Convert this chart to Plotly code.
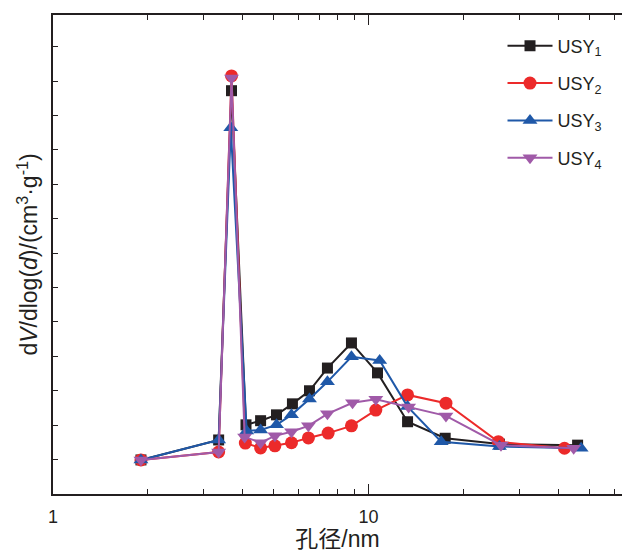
import plotly.graph_objects as go

# Pore diameter (nm) per series
d_usy1 = [1.90, 3.35, 3.68, 4.09, 4.55, 5.11, 5.74, 6.50, 7.41, 8.83, 10.68, 13.3, 17.5, 26.0, 46.0]
d_usy2 = [1.90, 3.35, 3.68, 4.07, 4.55, 5.05, 5.70, 6.45, 7.45, 8.83, 10.55, 13.3, 17.6, 25.8, 41.8]
d_usy3 = [1.90, 3.35, 3.66, 4.11, 4.55, 5.11, 5.70, 6.50, 7.41, 8.83, 10.85, 13.3, 17.0, 26.0, 47.2]
d_usy4 = [1.90, 3.35, 3.68, 4.05, 4.55, 5.05, 5.70, 6.45, 7.41, 8.90, 10.55, 13.4, 17.6, 26.3, 44.7]

# dV/dlog(d) values (cm3/g)
v_usy1 = [0.099, 0.157, 1.172, 0.201, 0.213, 0.230, 0.262, 0.300, 0.366, 0.439, 0.352, 0.210, 0.162, 0.145, 0.142]
v_usy2 = [0.099, 0.122, 1.215, 0.148, 0.134, 0.140, 0.149, 0.163, 0.177, 0.198, 0.244, 0.288, 0.264, 0.152, 0.133]
v_usy3 = [0.099, 0.157, 1.064, 0.183, 0.186, 0.201, 0.230, 0.276, 0.326, 0.399, 0.388, 0.254, 0.152, 0.138, 0.133]
v_usy4 = [0.099, 0.122, 1.209, 0.166, 0.149, 0.169, 0.181, 0.198, 0.233, 0.265, 0.275, 0.253, 0.227, 0.142, 0.133]

names = ["USY<sub>1</sub>", "USY<sub>2</sub>", "USY<sub>3</sub>", "USY<sub>4</sub>"]
colors = ["#231f20", "#ec2a2a", "#1f58a8", "#a05aa8"]
symbols = ["square", "circle", "triangle-up", "triangle-down"]
sizes = [11, 13, 13, 13]

xs = [d_usy1, d_usy2, d_usy3, d_usy4]
ys = [v_usy1, v_usy2, v_usy3, v_usy4]

FONT = "Liberation Sans, Arial, Noto Sans CJK SC, sans-serif"

fig = go.Figure()
for i in range(4):
    fig.add_trace(go.Scatter(
        x=xs[i], y=ys[i], name=names[i], mode="lines+markers",
        line=dict(color=colors[i], width=2),
        marker=dict(symbol=symbols[i], size=sizes[i], color=colors[i]),
        legendgroup=f"g{i}",
    ))

fig.update_layout(
    width=622, height=552,
    margin=dict(l=53, r=0, t=15, b=58, autoexpand=False),
    paper_bgcolor="white", plot_bgcolor="white",
    font=dict(family=FONT, color="#231f20", size=17),
    showlegend=True,
    legend=dict(x=0.79, y=0.974, xanchor="left", yanchor="top",
                bgcolor="rgba(0,0,0,0)", traceorder="grouped", itemwidth=45,
                tracegroupgap=11, font=dict(size=18, family=FONT)),
)

fig.update_xaxes(
    type="log", range=[0, 1.8035], automargin=False,
    showline=True, linecolor="#231f20", linewidth=1.5, mirror="allticks",
    ticks="inside", ticklen=10, tickcolor="#231f20", tickwidth=1.2,
    tickvals=[1, 10], ticktext=["1", "10"], ticklabelstandoff=6,
    minor=dict(ticks="inside", ticklen=5, tickcolor="#231f20", tickwidth=1.2,
               tickvals=[2, 3, 4, 5, 6, 7, 8, 9, 20, 30, 40, 50, 60], showgrid=False),
    showgrid=False, zeroline=False,
    tickfont=dict(size=18, family=FONT),
    title=dict(text="孔径/nm", font=dict(size=23, family=FONT), standoff=7),
)
fig.update_yaxes(
    range=[0, 1.392], automargin=False,
    showline=True, linecolor="#231f20", linewidth=1.5, mirror=False,
    ticks="inside", ticklen=5, tickcolor="#231f20", tickwidth=1.2,
    dtick=0.1, tick0=0, showticklabels=False,
    showgrid=False, zeroline=False,
    title=dict(text="d<i>V</i>/dlog(<i>d</i>)/(cm<sup>3</sup>·g<sup>-1</sup>)",
               font=dict(size=23, family=FONT), standoff=7),
)

fig.write_html("out.html", config={"displayModeBar": False},
               post_script="document.body.style.margin='0';document.body.style.overflow='hidden';")
